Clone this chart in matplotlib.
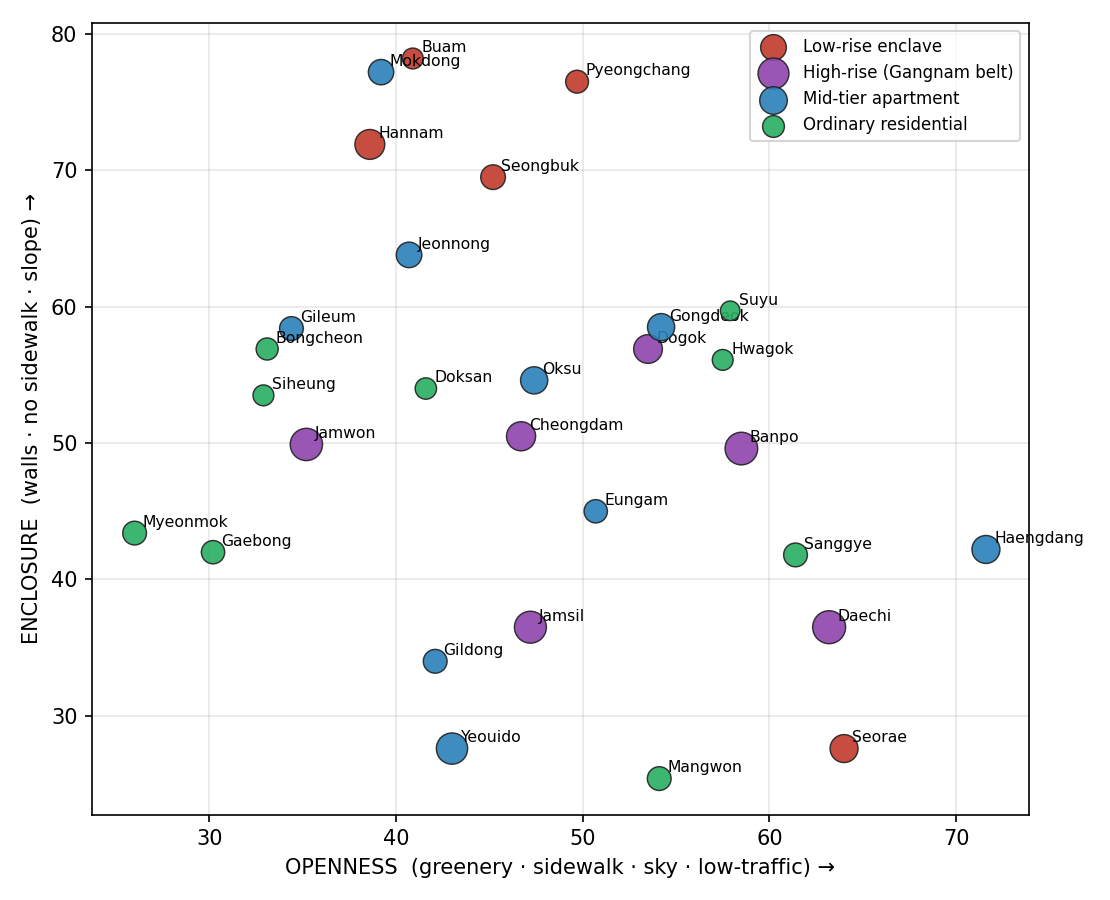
import matplotlib
matplotlib.use("Agg")
import matplotlib.pyplot as plt

# neighbourhood data, grouped by type
groups = ["Low-rise enclave", "High-rise (Gangnam belt)", "Mid-tier apartment", "Ordinary residential"]
colors = ["#c0392b", "#8e44ad", "#2980b9", "#27ae60"]

lowrise_names = ["Pyeongchang", "Buam", "Hannam", "Seongbuk", "Seorae"]
lowrise_open = [49.7, 40.9, 38.6, 45.2, 64.0]
lowrise_encl = [76.5, 78.2, 71.9, 69.5, 27.6]
lowrise_size = [120, 100, 205, 140, 180]

highrise_names = ["Jamwon", "Cheongdam", "Banpo", "Dogok", "Jamsil", "Daechi"]
highrise_open = [35.2, 46.7, 58.5, 53.5, 47.2, 63.2]
highrise_encl = [49.9, 50.5, 49.6, 56.9, 36.5, 36.5]
highrise_size = [240, 195, 245, 190, 235, 250]

midtier_names = ["Mokdong", "Jeonnong", "Gileum", "Oksu", "Gongdeok", "Eungam", "Haengdang", "Gildong", "Yeouido"]
midtier_open = [39.2, 40.7, 34.4, 47.4, 54.2, 50.7, 71.6, 42.1, 43.0]
midtier_encl = [77.2, 63.8, 58.4, 54.6, 58.5, 45.0, 42.2, 34.0, 27.6]
midtier_size = [148, 150, 130, 170, 170, 125, 180, 130, 225]

ordinary_names = ["Suyu", "Hwagok", "Bongcheon", "Siheung", "Doksan", "Myeonmok", "Gaebong", "Sanggye", "Mangwon"]
ordinary_open = [57.9, 57.5, 33.1, 32.9, 41.6, 26.0, 30.2, 61.4, 54.1]
ordinary_encl = [59.7, 56.1, 56.9, 53.5, 54.0, 43.4, 42.0, 41.8, 25.4]
ordinary_size = [88, 100, 112, 100, 105, 130, 125, 130, 130]

data = [
    (lowrise_names, lowrise_open, lowrise_encl, lowrise_size),
    (highrise_names, highrise_open, highrise_encl, highrise_size),
    (midtier_names, midtier_open, midtier_encl, midtier_size),
    (ordinary_names, ordinary_open, ordinary_encl, ordinary_size),
]

fig, ax = plt.subplots(figsize=(7.4, 6), dpi=150)

for (names, xs, ys, ss), label, c in zip(data, groups, colors):
    ax.scatter(xs, ys, s=ss, c=c, alpha=0.9, edgecolors="#222222",
               linewidths=0.7, label=label, zorder=3)
    for n, x, y in zip(names, xs, ys):
        ax.annotate(n, (x, y), xytext=(4, 3), textcoords="offset points",
                    fontsize=7.5, zorder=3)

ax.set_xlabel("OPENNESS  (greenery · sidewalk · sky · low-traffic) →")
ax.set_ylabel("ENCLOSURE  (walls · no sidewalk · slope) →")
ax.grid(True, alpha=0.3)
ax.legend(loc="upper right", fontsize=8)

plt.tight_layout()
plt.savefig("out.png", dpi=150)
